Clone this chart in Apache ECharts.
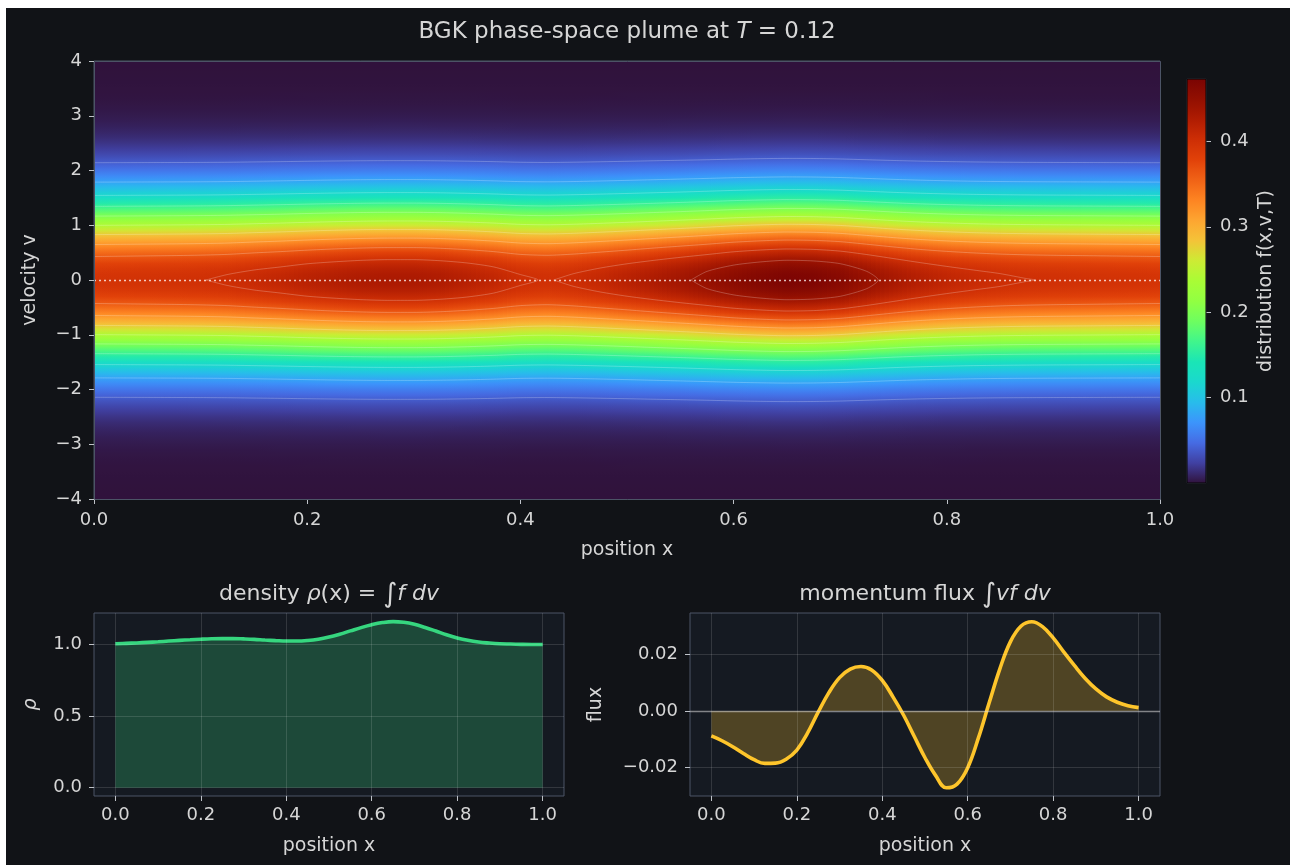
<!DOCTYPE html>
<html><head><meta charset="utf-8">
<script src="https://cdn.jsdelivr.net/npm/echarts@6.0.0/dist/echarts.min.js"></script>
<style>html,body{margin:0;padding:0;background:#ffffff;width:1290px;height:865px;overflow:hidden}
#c{position:absolute;left:6px;top:8px;width:1284px;height:857px;}</style></head>
<body><div id="c"></div>
<script>
// ---------------- data ----------------
const xs = [0,0.025,0.05,0.075,0.1,0.125,0.15,0.175,0.2,0.225,0.25,0.275,0.3,0.325,0.35,0.375,0.4,0.425,0.45,0.475,0.5,0.525,0.55,0.575,0.6,0.625,0.65,0.675,0.7,0.725,0.75,0.775,0.8,0.825,0.85,0.875,0.9,0.925,0.95,0.975,1.0];
const rho = [1.005,1.008,1.011,1.015,1.019,1.024,1.029,1.033,1.037,1.040,1.041,1.041,1.039,1.036,1.031,1.027,1.024,1.024,1.028,1.037,1.052,1.072,1.095,1.118,1.138,1.153,1.160,1.155,1.141,1.119,1.094,1.068,1.046,1.029,1.017,1.010,1.005,1.003,1.001,1.000,1.000];
const flux = [-0.0088,-0.0105,-0.0126,-0.0150,-0.0172,-0.0185,-0.0184,-0.0170,-0.0138,-0.0078,-0.0004,0.0065,0.0118,0.0148,0.0157,0.0145,0.0108,0.0050,-0.0015,-0.0090,-0.0165,-0.0228,-0.0271,-0.0258,-0.0200,-0.0095,0.0028,0.0148,0.0245,0.0300,0.0315,0.0298,0.0258,0.0208,0.0160,0.0115,0.0078,0.0050,0.0031,0.0019,0.0012];
// f(x, v=0) along the plume centre line
const peakF = [0.395,0.396,0.397,0.398,0.3995,0.402,0.407,0.412,0.418,0.423,0.427,0.429,0.429,0.426,0.420,0.412,0.402,0.399,0.403,0.410,0.418,0.427,0.436,0.446,0.457,0.465,0.470,0.468,0.460,0.446,0.432,0.421,0.413,0.407,0.403,0.4005,0.399,0.398,0.397,0.396,0.395];
// |v| grid and f(x,v)/f(x,0) read along a column (symmetric in v)
const vGrid = [0,0.1,0.2,0.3,0.4,0.5,0.6,0.7,0.8,0.9,1.0,1.1,1.2,1.3,1.4,1.5,1.6,1.7,1.8,1.9,2.0,2.1,2.2,2.3,2.4,2.5,2.6,2.7,2.8,2.9,3.0,3.1,3.2,3.3,3.4,3.5,3.6,3.7,3.8,3.9,4.0];
const vProfile = [1.0000,0.9950,0.9802,0.9560,0.9231,0.8825,0.8353,0.7827,0.7261,0.6670,0.6065,0.5461,0.4868,0.4296,0.3753,0.3247,0.2780,0.2357,0.1979,0.1645,0.1353,0.1103,0.0889,0.0710,0.0561,0.0439,0.0340,0.0261,0.0198,0.0149,0.0111,0.0082,0.0060,0.0043,0.0031,0.0022,0.0015,0.0011,0.0007,0.0005,0.0003];
const contourLevels = [0.04,0.08,0.12,0.16,0.20,0.24,0.28,0.32,0.36,0.40,0.44];
const VMAX = 0.473;
const mainXTicks = [0,0.2,0.4,0.6,0.8,1.0];
const mainYTicks = [-4,-3,-2,-1,0,1,2,3,4];
const cbarTicks = [0.1,0.2,0.3,0.4];
const subXTicks = [0,0.2,0.4,0.6,0.8,1.0];
const rhoTicks = [0,0.5,1.0];
const fluxTicks = [-0.02,0,0.02];

// ---------------- styling ----------------
const OX = 6, OY = 8;
const BG = '#111317', PANEL = '#151a22', FRAME = '#4c5466', TXT = '#d6d6d6', TICK = '#bfc3c9';
const FONT = 'DejaVu Sans';
const TICK_FS = 18, NAME_FS = 19;
const TURBO = [[0.00,48,18,59],[0.05,64,64,161],[0.10,70,107,227],[0.15,60,148,252],[0.20,40,188,235],[0.25,26,216,206],[0.30,26,229,182],[0.35,64,245,140],[0.40,109,254,96],[0.45,145,255,66],[0.50,169,252,53],[0.55,205,235,52],[0.60,244,195,56],[0.65,253,165,49],[0.70,253,132,34],[0.75,240,98,22],[0.80,225,65,9],[0.85,205,46,5],[0.90,175,28,2],[0.95,146,15,1],[1.00,122,4,3]];
function turbo(t){
  t = Math.max(0, Math.min(1, t));
  for (let k = 0; k < TURBO.length - 1; k++) {
    const a = TURBO[k], b = TURBO[k+1];
    if (t <= b[0]) {
      const u = (t - a[0]) / (b[0] - a[0]);
      return 'rgb(' + [1,2,3].map(c => Math.round(a[c] + u*(b[c]-a[c]))).join(',') + ')';
    }
  }
  const l = TURBO[TURBO.length-1]; return 'rgb(' + l[1] + ',' + l[2] + ',' + l[3] + ')';
}
const minus = s => String(s).replace('-', '\u2212');
const txt = (size) => ({color: TXT, fontSize: size, fontFamily: FONT});

// velocity rows from v=+4 (top) to v=-4 (bottom)
const rows = [];
for (let j = vGrid.length - 1; j >= 0; j--) rows.push({v: vGrid[j], r: vProfile[j]});
for (let j = 1; j < vGrid.length; j++) rows.push({v: -vGrid[j], r: vProfile[j]});
// vertical colour gradient of each x column
const colFill = peakF.map(f0 => ({type: 'linear', x: 0, y: 0, x2: 0, y2: 1,
  colorStops: rows.map(rw => ({offset: (4 - rw.v) / 8, color: turbo(f0 * rw.r / VMAX)}))}));

// ---------------- contours of f ----------------
function crossV(ratio){
  if (ratio > 1) return null;
  for (let j = 0; j < vProfile.length - 1; j++) {
    if (vProfile[j] >= ratio && vProfile[j+1] < ratio) {
      const t = (vProfile[j] - ratio) / (vProfile[j] - vProfile[j+1]);
      return vGrid[j] + t * (vGrid[j+1] - vGrid[j]);
    }
  }
  return null;
}
const contourPieces = [];
contourLevels.forEach(L => {
  const vc = peakF.map(f => crossV(L / f));
  let i = 0;
  while (i < xs.length) {
    if (vc[i] === null) { i++; continue; }
    let a = i; while (i < xs.length && vc[i] !== null) i++;
    const b = i - 1;
    const tip = (i0, i1) => xs[i0] + (L - peakF[i0]) / (peakF[i1] - peakF[i0]) * (xs[i1] - xs[i0]);
    const tipL = a > 0 ? tip(a - 1, a) : null;
    const tipR = b < xs.length - 1 ? tip(b, b + 1) : null;
    const up = [], lo = [];
    for (let k = a; k <= b; k++) { up.push([xs[k], vc[k]]); lo.push([xs[k], -vc[k]]); }
    if (tipL !== null && tipR !== null) {
      contourPieces.push([[tipL, 0]].concat(up, [[tipR, 0]], lo.slice().reverse(), [[tipL, 0]]));
    } else {
      const u2 = (tipL !== null ? [[tipL, 0]] : []).concat(up, tipR !== null ? [[tipR, 0]] : []);
      const l2 = (tipL !== null ? [[tipL, 0]] : []).concat(lo, tipR !== null ? [[tipR, 0]] : []);
      contourPieces.push(u2, l2);
    }
  }
});

// ---------------- layout ----------------
const GM = {l:94, t:61, w:1066, h:438};
const GC = {l:1187, t:79, w:19, h:404};
const GD = {l:94, t:613, w:470, h:183};
const GF = {l:690, t:613, w:470, h:183};
const grid = (g, bg) => ({left: g.l - OX, top: g.t - OY, width: g.w, height: g.h, containLabel: false, outerBoundsMode: 'none',
  show: true, backgroundColor: bg, borderColor: FRAME, borderWidth: 1});

const tickStyle = {show: true, length: 5, inside: false, lineStyle: {color: TICK, width: 1}};
const noLine = {show: false, onZero: false};

const chart = echarts.init(document.getElementById('c'), null, {renderer: 'canvas'});

const series = [];
// heatmap f(x,v,T): each interval between two read columns, shaded smoothly between them
const NSUB = 6;
series.push({
  type: 'custom', name: 'f(x,v,T)', xAxisIndex: 0, yAxisIndex: 0, silent: true, z: 1,
  data: xs.slice(0, -1).map((x, i) => [x, i]),
  renderItem: (params, api) => {
    const i = api.value(1);
    const pA = api.coord([xs[i], 4]);
    const pB = api.coord([xs[i+1], -4]);
    const w = pB[0] - pA[0], h = pB[1] - pA[1];
    const children = [{type: 'rect', shape: {x: pA[0], y: pA[1], width: w + 0.8, height: h}, style: {fill: colFill[i]}}];
    for (let s = 0; s < NSUB; s++) {
      const u = (s + 0.5) / NSUB;
      children.push({type: 'rect', shape: {x: pA[0] + w * s / NSUB, y: pA[1], width: w / NSUB + 0.6, height: h},
        style: {fill: colFill[i+1], opacity: u}});
    }
    return {type: 'group', children: children};
  }
});
// contour lines
contourPieces.forEach(p => series.push({
  type: 'line', xAxisIndex: 0, yAxisIndex: 0, data: p, showSymbol: false, smooth: 0.25, silent: true, z: 3,
  lineStyle: {color: 'rgba(255,255,255,0.26)', width: 0.9}, clip: true
}));
// dotted v = 0 line
series.push({
  type: 'line', xAxisIndex: 0, yAxisIndex: 0, data: [], silent: true, z: 4,
  markLine: {silent: true, symbol: ['none','none'], label: {show: false}, animation: false,
    lineStyle: {color: 'rgba(255,255,255,0.75)', type: [2, 3], width: 1.3}, data: [{yAxis: 0}]}
});
// colorbar
series.push({
  type: 'custom', xAxisIndex: 1, yAxisIndex: 1, silent: true, data: [[0, 0]],
  renderItem: (params, api) => {
    const pTop = api.coord([0, VMAX]), pBot = api.coord([1, 0]);
    const stops = [];
    for (let k = 0; k <= 40; k++) stops.push({offset: k / 40, color: turbo(1 - k / 40)});
    return {type: 'rect', shape: {x: pTop[0], y: pTop[1], width: pBot[0] - pTop[0], height: pBot[1] - pTop[1]},
      style: {fill: {type: 'linear', x: 0, y: 0, x2: 0, y2: 1, colorStops: stops}, stroke: '#050505', lineWidth: 1}};
  }
});
// density
const gridLine = 'rgba(255,255,255,0.13)';
series.push({
  type: 'line', name: 'density', xAxisIndex: 2, yAxisIndex: 2, data: xs.map((x, i) => [x, rho[i]]),
  showSymbol: false, smooth: 0.4, z: 3,
  lineStyle: {color: '#36d67f', width: 3.6}, areaStyle: {color: 'rgba(54,214,127,0.25)', opacity: 1, origin: 0},
  markLine: {silent: true, symbol: ['none','none'], label: {show: false}, animation: false,
    lineStyle: {color: gridLine, type: 'solid', width: 1},
    data: subXTicks.map(v => ({xAxis: v})).concat(rhoTicks.map(v => ({yAxis: v})))}
});
// momentum flux
series.push({
  type: 'line', name: 'flux', xAxisIndex: 3, yAxisIndex: 3, data: xs.map((x, i) => [x, flux[i]]),
  showSymbol: false, smooth: 0.4, z: 3,
  lineStyle: {color: '#fec52b', width: 3.6}, areaStyle: {color: 'rgba(254,197,43,0.25)', opacity: 1, origin: 0},
  markLine: {silent: true, symbol: ['none','none'], label: {show: false}, animation: false,
    lineStyle: {color: gridLine, type: 'solid', width: 1},
    data: subXTicks.map(v => ({xAxis: v})).concat(fluxTicks.filter(v => v !== 0).map(v => ({yAxis: v})),
      [{yAxis: 0, lineStyle: {color: 'rgba(220,220,220,0.55)', width: 1.3}}])}
});

const option = {
  backgroundColor: BG,
  animation: false,
  textStyle: {fontFamily: FONT},
  title: [
    {text: 'BGK phase-space plume at {i|T} = 0.12', left: 627 - OX, top: 21 - OY, textAlign: 'center', padding: 0,
      textStyle: {color: TXT, fontSize: 23, fontWeight: 'normal', fontFamily: FONT,
        rich: {i: {fontStyle: 'italic', fontSize: 23, color: TXT, fontFamily: FONT}}}},
    {text: 'density {i|ρ}(x) = {b|∫}{i|f dv}', left: 329 - OX, top: 581 - OY, textAlign: 'center', padding: 0,
      textStyle: {color: TXT, fontSize: 22, fontWeight: 'normal', fontFamily: FONT,
        rich: {i: {fontStyle: 'italic', fontSize: 22, color: TXT, fontFamily: FONT}, b: {fontSize: 27, color: TXT, fontFamily: FONT}}}},
    {text: 'momentum flux {b|∫}{i|vf dv}', left: 925 - OX, top: 581 - OY, textAlign: 'center', padding: 0,
      textStyle: {color: TXT, fontSize: 22, fontWeight: 'normal', fontFamily: FONT,
        rich: {i: {fontStyle: 'italic', fontSize: 22, color: TXT, fontFamily: FONT}, b: {fontSize: 27, color: TXT, fontFamily: FONT}}}}
  ],
  grid: [grid(GM, 'transparent'), grid(GC, 'transparent'), grid(GD, PANEL), grid(GF, PANEL)],
  xAxis: [
    {type: 'value', gridIndex: 0, min: 0, max: 1, interval: 0.2, axisLine: noLine, axisTick: tickStyle,
      axisLabel: {...txt(TICK_FS), margin: 12, formatter: v => v.toFixed(1)}, splitLine: {show: false},
      name: 'position x', nameLocation: 'middle', nameGap: 42, nameTextStyle: txt(NAME_FS)},
    {type: 'value', gridIndex: 1, min: 0, max: 1, show: false},
    {type: 'value', gridIndex: 2, min: -0.05, max: 1.05, axisLine: noLine,
      axisTick: {...tickStyle, customValues: subXTicks},
      axisLabel: {...txt(TICK_FS), margin: 10, customValues: subXTicks, formatter: v => v.toFixed(1)}, splitLine: {show: false},
      name: 'position x', nameLocation: 'middle', nameGap: 41, nameTextStyle: txt(NAME_FS)},
    {type: 'value', gridIndex: 3, min: -0.05, max: 1.05, axisLine: noLine,
      axisTick: {...tickStyle, customValues: subXTicks},
      axisLabel: {...txt(TICK_FS), margin: 10, customValues: subXTicks, formatter: v => v.toFixed(1)}, splitLine: {show: false},
      name: 'position x', nameLocation: 'middle', nameGap: 41, nameTextStyle: txt(NAME_FS)}
  ],
  yAxis: [
    {type: 'value', gridIndex: 0, min: -4, max: 4, interval: 1, axisLine: noLine, axisTick: tickStyle,
      axisLabel: {...txt(TICK_FS), margin: 12, formatter: v => minus(v)}, splitLine: {show: false},
      name: 'velocity v', nameLocation: 'middle', nameGap: 54, nameTextStyle: txt(NAME_FS)},
    {type: 'value', gridIndex: 1, position: 'right', min: 0, max: VMAX, axisLine: noLine,
      axisTick: {...tickStyle, customValues: cbarTicks},
      axisLabel: {...txt(TICK_FS), margin: 14, customValues: cbarTicks, formatter: v => v.toFixed(1)}, splitLine: {show: false},
      name: 'distribution f(x,v,T)', nameLocation: 'middle', nameGap: 51, nameRotate: 90, nameTextStyle: txt(NAME_FS)},
    {type: 'value', gridIndex: 2, min: -0.058, max: 1.22, axisLine: noLine,
      axisTick: {...tickStyle, customValues: rhoTicks},
      axisLabel: {...txt(TICK_FS), margin: 12, customValues: rhoTicks, formatter: v => v.toFixed(1)}, splitLine: {show: false},
      name: 'ρ', nameLocation: 'middle', nameGap: 53, nameTextStyle: {...txt(NAME_FS), fontStyle: 'italic'}},
    {type: 'value', gridIndex: 3, min: -0.030, max: 0.0346, axisLine: noLine,
      axisTick: {...tickStyle, customValues: fluxTicks},
      axisLabel: {...txt(TICK_FS), margin: 12, customValues: fluxTicks, formatter: v => minus(v.toFixed(2))}, splitLine: {show: false},
      name: 'flux', nameLocation: 'middle', nameGap: 84, nameTextStyle: txt(NAME_FS)}
  ],
  graphic: [
    {type: 'rect', z: 100, silent: true, shape: {x: GM.l - OX + 0.5, y: GM.t - OY + 0.5, width: GM.w, height: GM.h},
      style: {fill: 'none', stroke: FRAME, lineWidth: 1}}
  ],
  series: series
};
chart.setOption(option);
</script>
</body></html>
